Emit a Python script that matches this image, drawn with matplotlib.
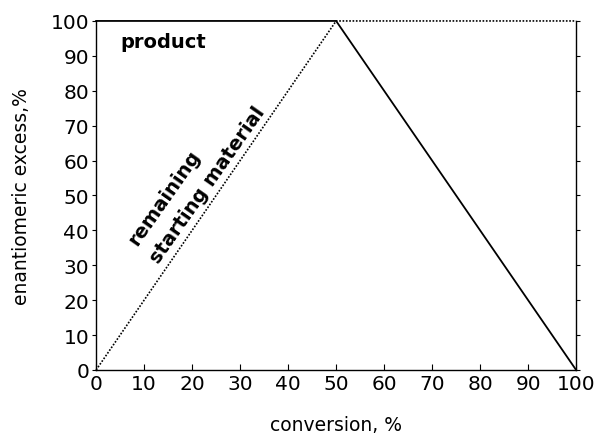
import matplotlib
matplotlib.use("Agg")
import matplotlib.pyplot as plt

# Enantiomeric excess vs. conversion for an ideal kinetic resolution
conversion = [0, 50, 100]
ee_product = [100, 100, 0]
ee_starting_material = [0, 100, 100]
x_ticks = [0, 10, 20, 30, 40, 50, 60, 70, 80, 90, 100]
y_ticks = [0, 10, 20, 30, 40, 50, 60, 70, 80, 90, 100]

plt.rcParams['font.family'] = ['DejaVu Sans']

fig = plt.figure(figsize=(5.97, 4.39), dpi=100)
ax = fig.add_axes([0.161, 0.155, 0.804, 0.795])

ax.plot(conversion, ee_product, color='black', lw=1.3, clip_on=False,
        solid_joinstyle='miter')
ax.plot(conversion, ee_starting_material, color='black', lw=1.2,
        linestyle=(0, (1, 1.0)), clip_on=False)

ax.set_xlim(0, 100)
ax.set_ylim(0, 100)
ax.set_xticks(x_ticks)
ax.set_yticks(y_ticks)

ax.spines['top'].set_visible(False)
for side in ('left', 'bottom', 'right'):
    ax.spines[side].set_linewidth(1.0)

ax.tick_params(axis='x', direction='in', length=4, width=0.8,
               labelsize=14.5, pad=3)
ax.tick_params(axis='y', direction='out', length=3, width=0.8,
               labelsize=14.5, pad=2, right=True)

ax.set_xlabel('conversion, %', fontsize=13.5, labelpad=16)
ax.set_ylabel('enantiomeric excess,%', fontsize=13.5, labelpad=14)

ax.text(5, 92.5, 'product', fontsize=14, fontweight='bold',
        ha='left', va='baseline')
ax.text(8.6, 35.5, 'remaining', fontsize=14, fontweight='bold',
        rotation=55, rotation_mode='anchor', ha='left', va='baseline')
ax.text(13.0, 30.5, 'starting material', fontsize=14, fontweight='bold',
        rotation=55, rotation_mode='anchor', ha='left', va='baseline')

fig.savefig('out.png', dpi=100)
